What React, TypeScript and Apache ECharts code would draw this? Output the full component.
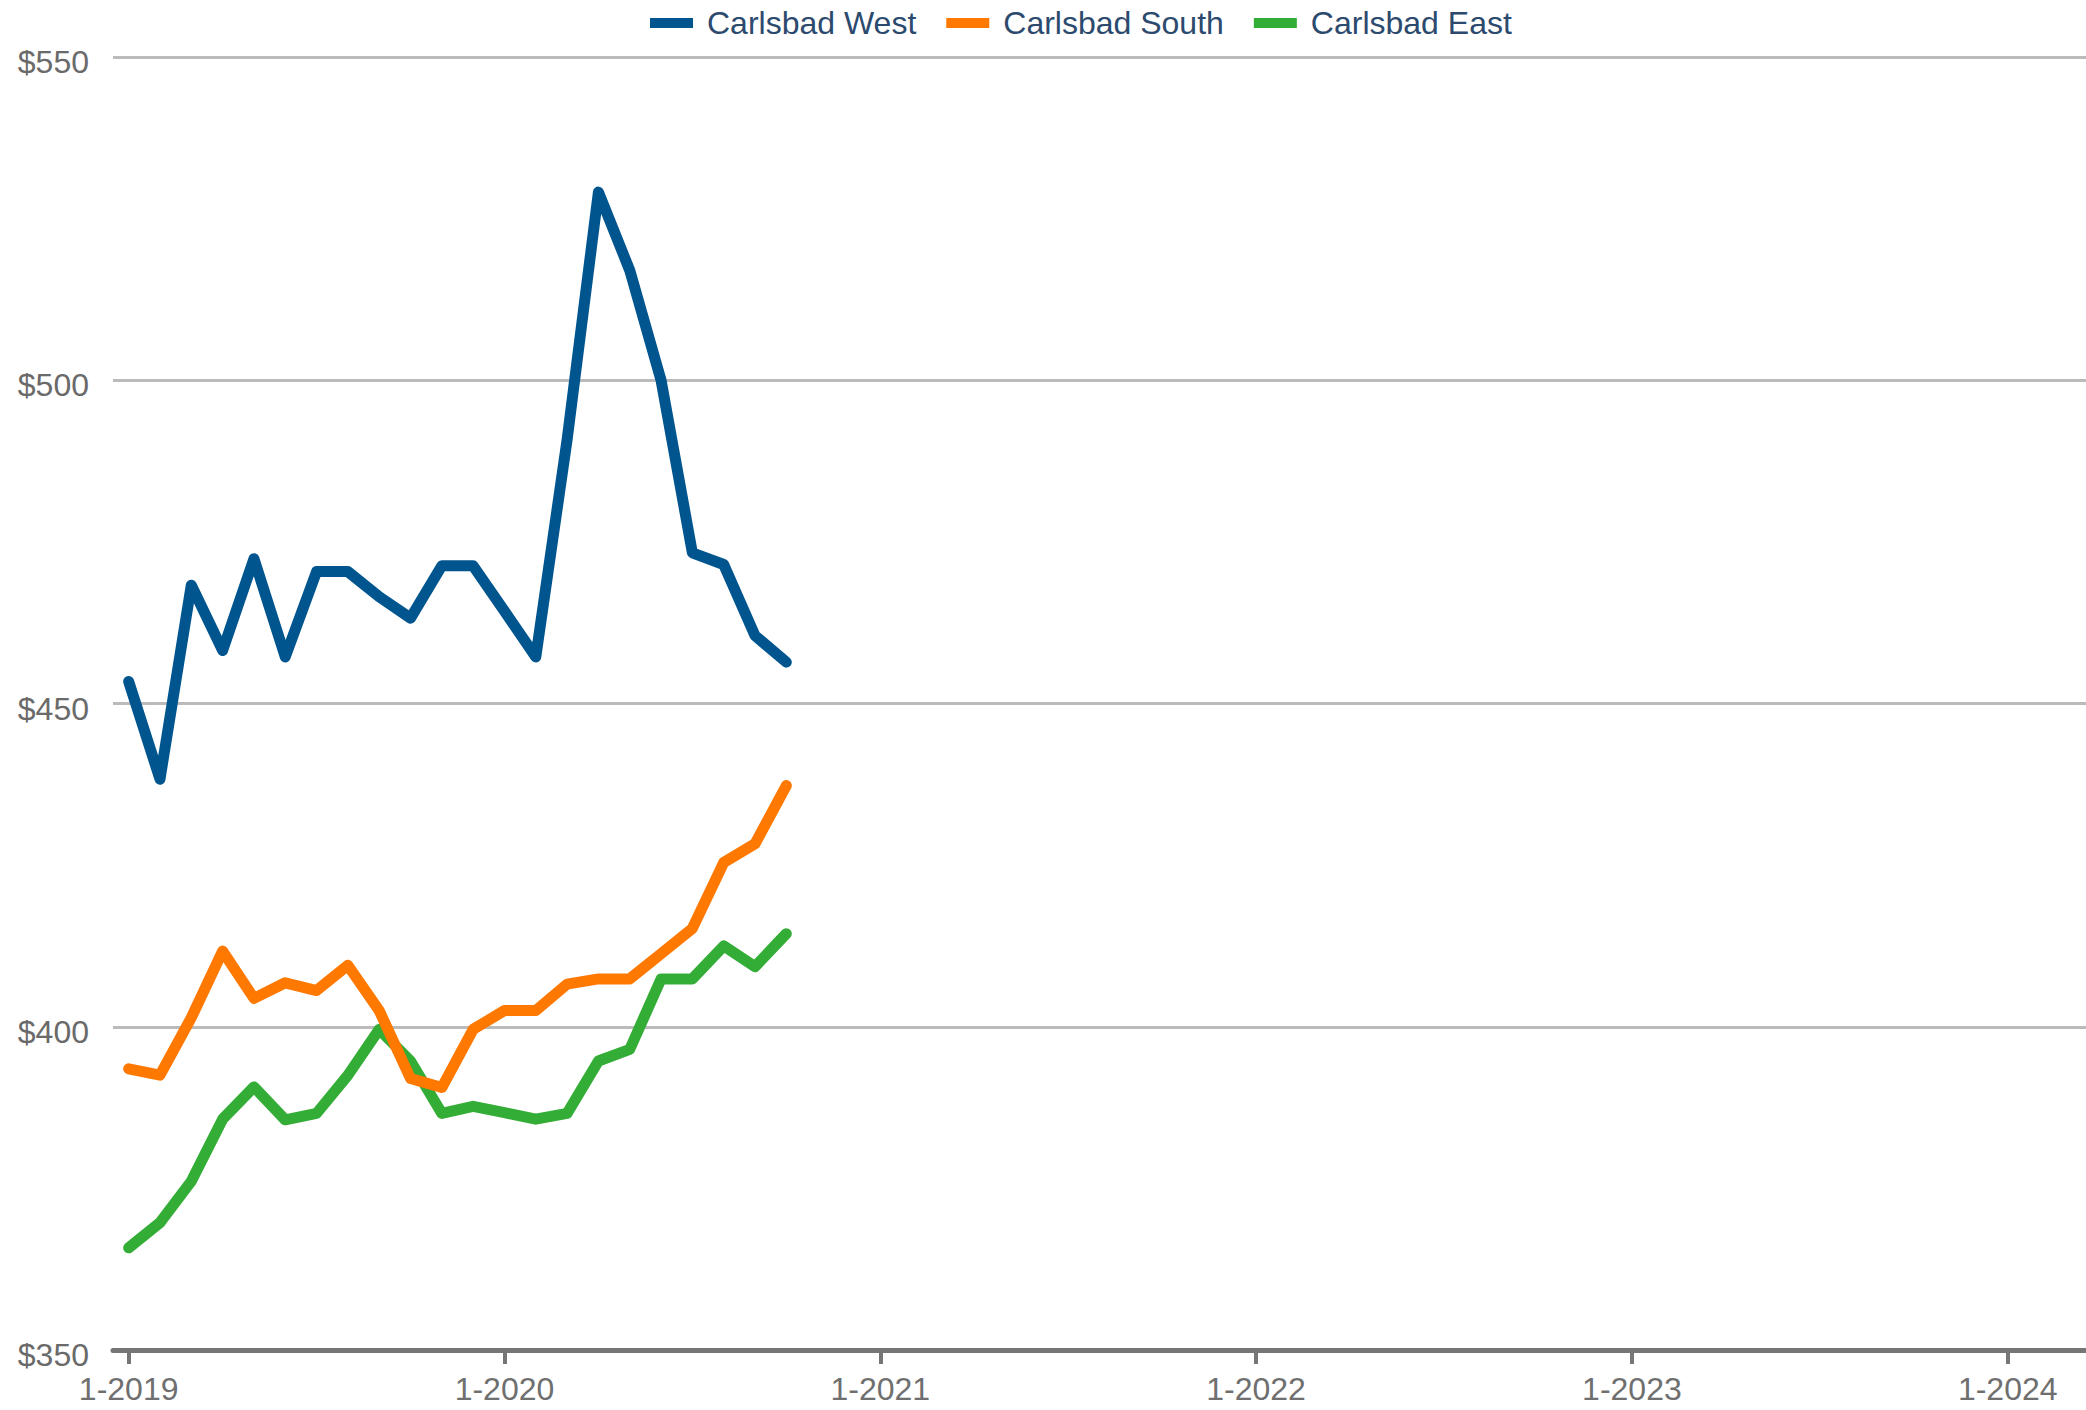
import React, { useEffect, useRef } from "react";
import * as echarts from "echarts";

const years = [2019, 2020, 2021, 2022, 2023, 2024];
const monthsInLastYear = 3;
const categories: string[] = [];
years.forEach((y, yi) => {
  const last = yi === years.length - 1 ? monthsInLastYear : 12;
  for (let m = 1; m <= last; m++) categories.push(`${m}-${y}`);
});

const seriesNames = ["Carlsbad West", "Carlsbad South", "Carlsbad East"];
const seriesColors = ["#00558F", "#FF7800", "#34AD36"];

const carlsbadWest = [453.4, 438.3, 468.3, 458.2, 472.4, 457.2, 470.4, 470.4, 466.5, 463.2, 471.3, 471.3, 464.3, 457.2, 490.8, 529.1, 517.0, 500.0, 473.3, 471.5, 460.5, 456.4];
const carlsbadSouth = [393.5, 392.5, 401.4, 411.7, 404.4, 406.8, 405.6, 409.5, 402.5, 392.0, 390.6, 399.6, 402.5, 402.5, 406.6, 407.4, 407.4, 411.3, 415.2, 425.4, 428.3, 437.3];
const carlsbadEast = [365.8, 369.7, 376.1, 385.7, 390.7, 385.6, 386.6, 392.5, 399.6, 394.7, 386.6, 387.7, 386.7, 385.7, 386.6, 394.7, 396.5, 407.4, 407.4, 412.5, 409.3, 414.4];

const yMin = 350;
const yMax = 550;
const yStep = 50;

export default function App() {
  const ref = useRef<HTMLDivElement>(null);
  useEffect(() => {
    if (!ref.current) return;
    const chart = echarts.init(ref.current, null, { renderer: "svg" });
    const font = "'Liberation Sans', Arial, sans-serif";
    const dataSets = [carlsbadWest, carlsbadSouth, carlsbadEast];
    chart.setOption({
      animation: false,
      backgroundColor: "#ffffff",
      legend: {
        top: 2,
        left: 645,
        itemWidth: 43,
        itemHeight: 10,
        itemGap: 30,
        icon: "rect",
        textStyle: { color: "#2C4A6E", fontSize: 32, fontFamily: font, padding: [0, 0, 0, 9] },
        data: seriesNames,
      },
      grid: { left: 113, right: 0, top: 57, bottom: 60, containLabel: false },
      xAxis: {
        type: "category",
        data: categories,
        boundaryGap: true,
        axisLine: { show: true, lineStyle: { color: "#767676", width: 5 } },
        axisTick: {
          show: true,
          alignWithLabel: true,
          interval: (i: number) => i % 12 === 0,
          length: 14,
          lineStyle: { color: "#767676", width: 4 },
        },
        axisLabel: {
          interval: (i: number) => i % 12 === 0,
          color: "#6F6F6F",
          fontSize: 32,
          fontFamily: font,
          margin: 23,
        },
        splitLine: { show: false },
      },
      yAxis: {
        type: "value",
        min: yMin,
        max: yMax,
        interval: yStep,
        axisLine: { show: false },
        axisTick: { show: false },
        axisLabel: {
          color: "#6A6A6A",
          fontSize: 32,
          fontFamily: font,
          margin: 24,
          verticalAlign: "top",
          lineHeight: 10,
          formatter: (v: number) => "$" + v,
        },
        splitLine: { show: true, lineStyle: { color: "#BBBBBB", width: 3 } },
      },
      series: seriesNames.map((name, i) => ({
        name,
        type: "line",
        data: dataSets[i],
        symbol: "none",
        color: seriesColors[i],
        lineStyle: { width: 11, color: seriesColors[i], cap: "round", join: "round" },
        z: 3 - i,
      })),
    });
    return () => chart.dispose();
  }, []);
  return (
    <div
      ref={ref}
      style={{ position: "fixed", left: 0, top: 0, width: 2086, height: 1410, background: "#fff" }}
    />
  );
}
